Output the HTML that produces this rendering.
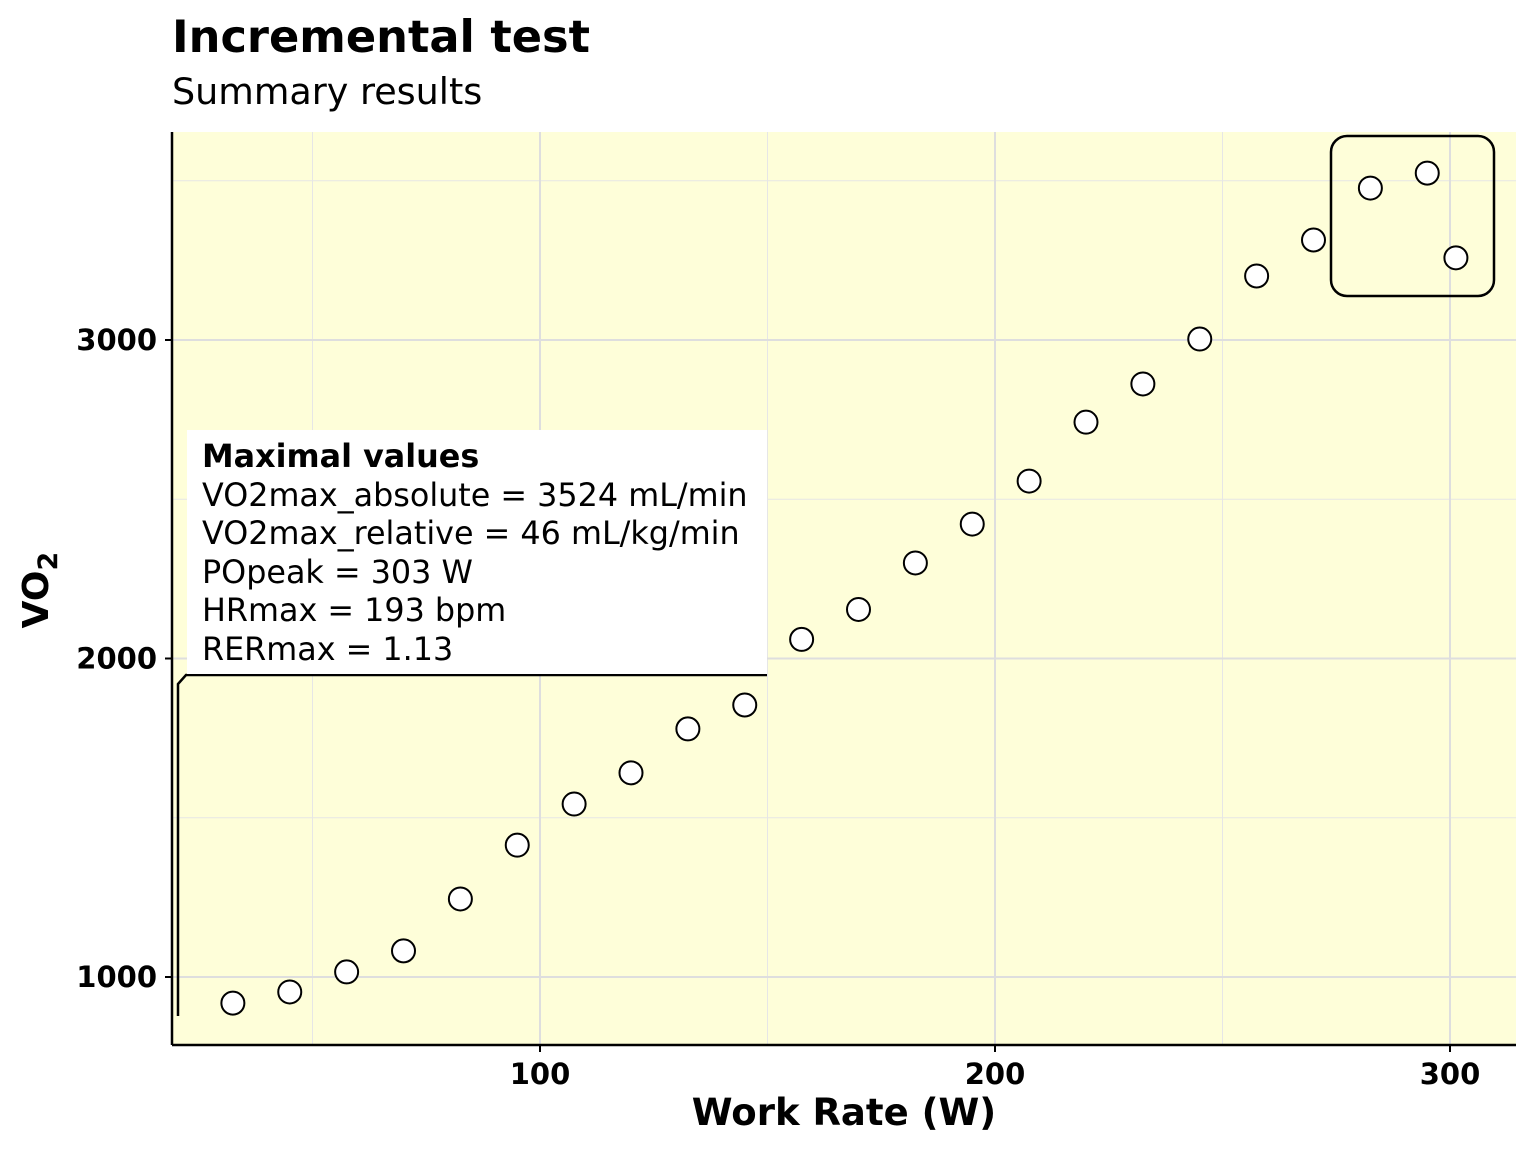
<!DOCTYPE html>
<html><head><meta charset="utf-8"><style>
body{margin:0;background:#fff;}
svg{display:block;font-family:"DejaVu Sans","Liberation Sans",sans-serif;}
</style></head><body>
<svg id="chart" width="1536" height="1152" viewBox="0 0 1536 1152">
<text x="172" y="52" font-size="44.7" font-weight="bold">Incremental test</text>
<text x="172" y="104" font-size="36.5">Summary results</text>
<rect x="172" y="132" width="1344" height="913" fill="#fefed9"/>
<g id="grid"></g>
<g id="marks"></g>
<g id="ticks"></g>
<line x1="172" y1="132" x2="172" y2="1045" stroke="#000" stroke-width="2.5"/>
<line x1="172" y1="1045" x2="1516" y2="1045" stroke="#000" stroke-width="2.5"/>
<path d="M178 1016 V684 L186 675 H767" fill="none" stroke="#000" stroke-width="2.5"/>
<rect x="187" y="430" width="580" height="244" fill="#fff"/>
<g font-size="31.8">
<text x="202" y="467" font-weight="bold">Maximal values</text>
<text x="202" y="506">VO2max_absolute = 3524 mL/min</text>
<text x="202" y="544">VO2max_relative = 46 mL/kg/min</text>
<text x="202" y="583">POpeak = 303 W</text>
<text x="202" y="621">HRmax = 193 bpm</text>
<text x="202" y="660">RERmax = 1.13</text>
</g>
<rect x="1331" y="136" width="163" height="160" rx="16" fill="none" stroke="#000" stroke-width="2.5"/>
<text x="844" y="1125" font-size="37" font-weight="bold" text-anchor="middle">Work Rate (W)</text>
<text transform="translate(48,590) rotate(-90)" font-size="36" font-weight="bold" text-anchor="middle">VO<tspan font-size="27" dy="9">2</tspan></text>
</svg>
<script>
const workRate=[32.5,45,57.5,70,82.5,95,107.5,120,132.5,145,157.5,170,182.5,195,207.5,220,232.5,245,257.5,270,282.5,295,301.3];
const vo2=[918,953,1016,1082,1245,1414,1543,1641,1779,1854,2060,2154,2300,2422,2557,2742,2862,3003,3201,3314,3477,3524,3258];
const xTicks=[100,200,300];
const xMinor=[50,150,250];
const yTicks=[1000,2000,3000];
const yMinor=[1500,2500,3500];
const NS="http://www.w3.org/2000/svg";
const xs=v=>85+v*4.55;
const ys=v=>977-(v-1000)*0.3185;
function mk(tag,attrs,parent){const e=document.createElementNS(NS,tag);for(const k in attrs)e.setAttribute(k,attrs[k]);document.getElementById(parent).appendChild(e);return e;}
xMinor.forEach(v=>{const l=mk('line',{x1:xs(v),x2:xs(v),y1:132,y2:1045,stroke:'#e6e6e6','stroke-width':1},'grid');

});
yMinor.forEach(v=>{const l=mk('line',{x1:172,x2:1516,y1:ys(v),y2:ys(v),stroke:'#e6e6e6','stroke-width':1},'grid');

});
xTicks.forEach(v=>{const l=mk('line',{x1:xs(v),x2:xs(v),y1:132,y2:1045,stroke:'#dedede','stroke-width':2},'grid');


const t=mk('line',{x1:xs(v),x2:xs(v),y1:1045,y2:1052,stroke:'#000','stroke-width':2},'ticks');


const tx=mk('text',{x:xs(v),y:1084,'font-size':29,'font-weight':'bold','text-anchor':'middle'},'ticks');tx.textContent=v;

});
yTicks.forEach(v=>{const l=mk('line',{x1:172,x2:1516,y1:ys(v),y2:ys(v),stroke:'#dedede','stroke-width':2},'grid');


const t=mk('line',{x1:165,x2:172,y1:ys(v),y2:ys(v),stroke:'#000','stroke-width':2},'ticks');


const tx=mk('text',{x:157,y:ys(v)+10,'font-size':29,'font-weight':'bold','text-anchor':'end'},'ticks');tx.textContent=v;

});
workRate.forEach((w,i)=>{const c=mk('circle',{cx:xs(w),cy:ys(vo2[i]),r:11.5,fill:'#fff',stroke:'#000','stroke-width':2},'marks');

});
</script>
</body></html>
